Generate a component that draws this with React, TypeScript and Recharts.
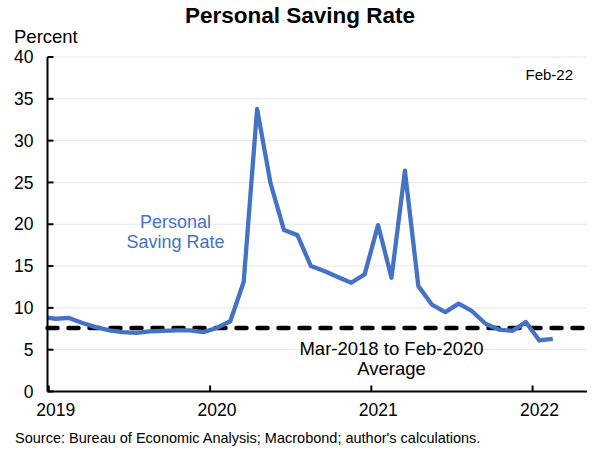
import React from "react";
import {
  CartesianGrid,
  Line,
  LineChart,
  ReferenceLine,
  XAxis,
  YAxis,
} from "recharts";

// monthly personal saving rate, % (Dec-18 sits just left of the frame and is clipped)
const months = [
  "2018-12",
  "2019-01", "2019-02", "2019-03", "2019-04", "2019-05", "2019-06",
  "2019-07", "2019-08", "2019-09", "2019-10", "2019-11", "2019-12",
  "2020-01", "2020-02", "2020-03", "2020-04", "2020-05", "2020-06",
  "2020-07", "2020-08", "2020-09", "2020-10", "2020-11", "2020-12",
  "2021-01", "2021-02", "2021-03", "2021-04", "2021-05", "2021-06",
  "2021-07", "2021-08", "2021-09", "2021-10", "2021-11", "2021-12",
  "2022-01", "2022-02",
];

const savingRate = [
  8.9,
  8.7, 8.8, 8.2, 7.7, 7.3, 7.1, 7.0, 7.2, 7.25, 7.3, 7.3, 7.1,
  7.6, 8.4, 13.1, 33.8, 24.9, 19.3, 18.7, 15.0, 14.4, 13.7, 13.0, 14.0,
  19.9, 13.6, 26.4, 12.6, 10.4, 9.5, 10.5, 9.6, 8.1, 7.4, 7.25, 8.3,
  6.1, 6.3,
];

// Mar-2018 to Feb-2020 average
const preCovidAverage = 7.6;

const yTicks = [0, 5, 10, 15, 20, 25, 30, 35, 40];
const yearTicks = [0, 12, 24, 36];
const yearLabels = ["2019", "2020", "2021", "2022"];

const BLUE = "#4472C4";
const FONT = "'Liberation Sans', Arial, sans-serif";

// x = months since Jan-2019, plotted at mid-month
const data = months.map((m, i) => {
  const [y, mo] = m.split("-").map(Number);
  return { x: (y - 2019) * 12 + (mo - 1) + 0.5, rate: savingRate[i] };
});

const YTick = (props: any) => {
  const { x, y, payload } = props;
  return (
    <g>
      <line x1={x} x2={x + 6} y1={y} y2={y} stroke="#000" strokeWidth={2} />
      <text x={x - 14} y={y} dy="0.35em" textAnchor="end" fontSize={17.5} fontFamily={FONT} fill="#000">
        {payload.value}
      </text>
    </g>
  );
};

const XTick = (props: any) => {
  const { x, y, payload, index } = props;
  return (
    <g>
      <line x1={x} x2={x} y1={y} y2={y - 6} stroke="#000" strokeWidth={2} />
      <text x={x + 7} y={y + 24} textAnchor="middle" fontSize={17.5} fontFamily={FONT} fill="#000">
        {yearLabels[index] ?? payload.value}
      </text>
    </g>
  );
};

export default function App() {
  return (
    <div style={{ position: "absolute", left: 0, top: 0, width: 600, height: 450, background: "#fff" }}>
      <LineChart
        width={600}
        height={450}
        data={data}
        margin={{ top: 57, right: 13, bottom: 0, left: 0 }}
      >
        <CartesianGrid vertical={false} stroke="#e6e6e6" strokeWidth={1} />
        <XAxis
          dataKey="x"
          type="number"
          domain={[-0.1, 40.05]}
          allowDataOverflow
          ticks={yearTicks}
          height={58.5}
          tickSize={0}
          tickMargin={0}
          tick={<XTick />}
          axisLine={{ stroke: "#000", strokeWidth: 2 }}
        />
        <XAxis
          xAxisId="top"
          orientation="top"
          dataKey="x"
          type="number"
          domain={[-0.1, 40.05]}
          allowDataOverflow
          height={0}
          tick={false}
          tickLine={false}
          axisLine={{ stroke: "#000", strokeWidth: 2 }}
        />
        <YAxis
          type="number"
          domain={[0, 40]}
          ticks={yTicks}
          width={47.5}
          tickSize={0}
          tickMargin={0}
          tick={<YTick />}
          axisLine={{ stroke: "#000", strokeWidth: 2 }}
        />
        <YAxis
          yAxisId="right"
          orientation="right"
          type="number"
          domain={[0, 40]}
          width={0}
          tick={false}
          tickLine={false}
          axisLine={{ stroke: "#000", strokeWidth: 2 }}
        />
        <ReferenceLine
          y={preCovidAverage}
          stroke="#000"
          strokeWidth={4.5}
          strokeDasharray="10 11"
          strokeLinecap="round"
        />
        <Line
          dataKey="rate"
          type="linear"
          stroke={BLUE}
          strokeWidth={4.3}
          strokeLinejoin="round"
          dot={false}
          isAnimationActive={false}
        />
      </LineChart>
      <svg
        width={600}
        height={450}
        style={{ position: "absolute", left: 0, top: 0, pointerEvents: "none" }}
        fontFamily={FONT}
      >
        <text x={300} y={23} textAnchor="middle" fontSize={22.5} fontWeight="bold" fill="#000">
          Personal Saving Rate
        </text>
        <text x={14} y={43} fontSize={18.5} fill="#000">
          Percent
        </text>
        <text x={573} y={80} textAnchor="end" fontSize={15} fill="#000">
          Feb-22
        </text>
        <text x={175.5} y={228} textAnchor="middle" fontSize={18} fill={BLUE}>
          Personal
        </text>
        <text x={175.5} y={248} textAnchor="middle" fontSize={18} fill={BLUE}>
          Saving Rate
        </text>
        <text x={391.5} y={355} textAnchor="middle" fontSize={18.5} fill="#000">
          Mar-2018 to Feb-2020
        </text>
        <text x={391.5} y={375} textAnchor="middle" fontSize={18.5} fill="#000">
          Average
        </text>
        <text x={15} y={443} fontSize={14.5} fill="#000">
          Source: Bureau of Economic Analysis; Macrobond; author's calculations.
        </text>
      </svg>
    </div>
  );
}
